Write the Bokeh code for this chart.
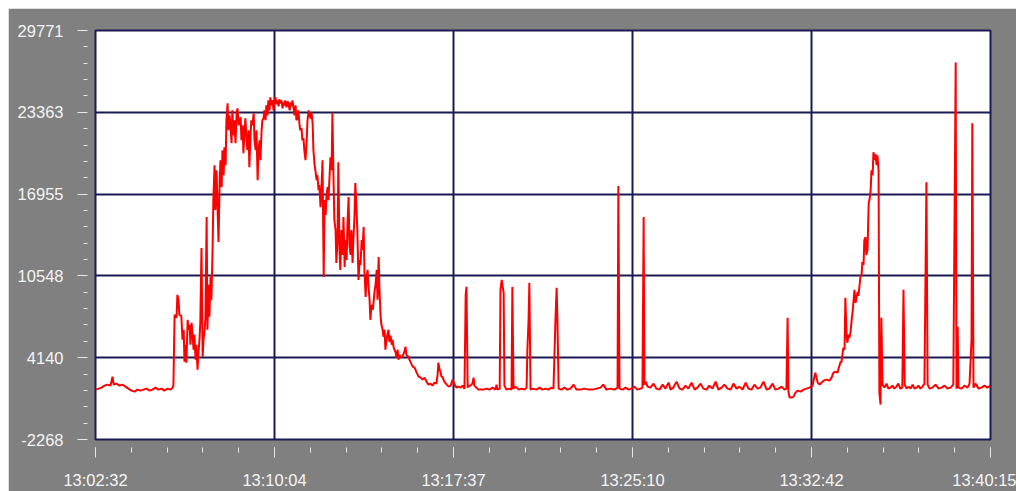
from bokeh.plotting import figure
from bokeh.models import FixedTicker, Range1d, ColumnDataSource, Spacer
from bokeh.layouts import row, column
from bokeh.embed import file_html
from bokeh.resources import INLINE

# ---- axis labels -------------------------------------------------------
x_tick_labels = ["13:02:32", "13:10:04", "13:17:37", "13:25:10", "13:32:42", "13:40:15"]
y_tick_labels = ["-2268", "4140", "10548", "16955", "23363", "29771"]
x_start, x_end = 0, 2263          # seconds after 13:02:32
y_start, y_end = -2268, 29771

# ---- data: seconds after 13:02:32 and reading ---------------------------
base_t = [0, 8, 15, 23, 30, 38, 43, 46, 53, 61, 68, 76, 83, 91, 99, 106, 114, 121, 129, 137,
          144, 152, 159, 167, 174, 182, 190, 195, 197]
base_v = [1639, 1717, 1795, 1952, 2030, 1952, 2655, 2030, 2108, 1952, 2030, 1873, 1717, 1561, 1483,
          1639, 1561, 1639, 1717, 1561, 1639, 1795, 1639, 1717, 1561, 1717, 1639, 1795, 1952]

rise_t = [200, 205, 207, 210, 212, 217, 220, 223, 225, 228,
          230, 233, 235, 238, 240, 243, 248, 250, 253, 255,
          258, 260, 263, 265, 268, 271, 273, 276, 278, 281,
          283, 286, 288, 291, 293, 296, 298, 301, 303, 306,
          308, 311, 314, 316, 319, 321, 324, 326, 329, 331,
          334, 336, 339, 341, 344, 346, 349, 351, 354, 357,
          359, 362, 367, 369, 372, 374, 377, 379, 382, 384,
          387, 389, 392, 394, 397, 400, 402, 405, 407, 410,
          412, 415, 417, 420, 422, 425, 427, 430, 432, 435,
          437, 440, 442]
rise_v = [7500, 7265, 9062, 8672, 7500, 7421, 5546, 6327, 3827, 5155,
          3749, 7109, 6327, 6718, 5155, 6874, 4765, 5937, 3983, 5155,
          3202, 4374, 5546, 6874, 12735, 4218, 5546, 6327, 7265, 15157,
          6327, 9844, 7343, 10469, 8672, 12579, 16486, 19221, 15704, 18830,
          16486, 13204, 18048, 19611, 17501, 20393, 18439, 20627, 19221, 22737,
          24065, 21955, 23128, 22346, 20940, 23518, 21565, 22737, 20940, 23362,
          23674, 22346, 22971, 21174, 22346, 20158, 21955, 22893, 21174, 20393,
          21955, 19064, 21565, 22737, 22346, 23284, 21174, 20393, 21955, 18048,
          20393, 21174, 19611, 21955, 22737, 22893, 23518, 22737, 23909, 23128,
          24300, 23518, 24534]

fall_t = [445, 448, 450, 453, 455, 458, 460, 463, 465, 468,
          470, 473, 475, 478, 480, 483, 486, 488, 491, 493,
          496, 498, 501, 503, 506, 508, 511, 513, 516, 518,
          521, 523, 526, 528, 531, 534, 536, 539, 541, 544,
          546, 549, 551, 554, 556, 559, 561, 564, 566, 569,
          571, 574, 577, 579, 582, 584, 587, 589, 592, 594,
          597, 599, 602, 604, 607, 609, 612, 614, 617, 619,
          622, 625, 627, 630, 632, 635, 637, 640, 642, 645,
          647, 650, 652, 655, 657, 660, 662, 665, 668, 670,
          673, 675, 678, 680, 683, 685, 688, 690, 693, 695,
          698, 701, 703, 706, 708, 711, 713, 716, 718, 721,
          723, 726, 728, 731, 733, 736, 738, 741, 743, 746,
          749, 751, 754, 756, 759, 761, 764, 766, 769, 771,
          776, 781, 784, 786, 791, 796, 802, 807, 812, 817,
          822, 827, 832, 837, 842, 847, 852, 857, 862, 865,
          867, 870, 872, 875, 877, 882, 888, 893, 898, 903,
          908, 913, 918, 923]
fall_v = [23909, 24300, 23518, 24456, 24534, 23987, 24300, 23831, 24378, 24065,
          24300, 23674, 24143, 23909, 24300, 23753, 24221, 23987, 23518, 24143,
          23831, 24300, 23674, 23128, 23909, 22737, 22893, 23518, 22346, 21955,
          22112, 21174, 21330, 20393, 19611, 21174, 22737, 23518, 23128, 22893,
          23362, 22502, 20393, 19221, 18830, 18048, 18439, 17267, 17658, 15939,
          16876, 19611, 10469, 16486, 15314, 16876, 17501, 16486, 18439, 19846,
          18830, 23284, 17814, 14923, 14141, 11563, 13360, 19455, 12579, 11016,
          14141, 12188, 15157, 11250, 13360, 11798, 14532, 16720, 12969, 12188,
          14141, 11563, 13360, 15314, 17814, 15704, 14141, 10234, 11798, 11407,
          13360, 12579, 14376, 11016, 8906, 10234, 11016, 9844, 8672, 7109,
          8281, 7890, 8437, 9453, 9844, 11016, 8672, 12032, 9453, 7343,
          6718, 6327, 5780, 6327, 4765, 5546, 5937, 6327, 5390, 5859,
          5155, 5546, 4921, 4765, 4530, 4139, 4765, 3983, 4374, 4139,
          4218, 4608, 4999, 4374, 4218, 3827, 3436, 3358, 2967, 2655,
          2577, 2420, 2577, 2264, 2030, 2108, 1952, 2186, 2108, 2811,
          3749, 3202, 3046, 2655, 2655, 2264, 2030, 1873, 1952, 2420,
          2030, 1795, 1873, 1795]

idle1_t = [928, 933, 936, 938, 941, 943, 948, 953, 956, 958,
           963, 968, 973, 981, 989, 996, 1004, 1011, 1014, 1016,
           1022, 1024, 1027, 1029, 1032, 1034, 1039, 1047, 1052, 1054,
           1057, 1062, 1070, 1077, 1085, 1090, 1092, 1095, 1097, 1100,
           1107, 1115, 1123, 1130, 1138, 1145, 1153, 1158, 1163, 1166,
           1168, 1171, 1178, 1186, 1193, 1201, 1209, 1216, 1226, 1236,
           1247, 1257, 1267, 1277, 1284, 1292, 1302, 1312, 1320, 1322,
           1325, 1333, 1340, 1348, 1355, 1363, 1370, 1378]
idle1_v = [1952, 1717, 9062, 9687, 1795, 1952, 1952, 2108, 2577, 1952,
           1795, 1639, 1639, 1639, 1717, 1639, 1795, 1639, 2030, 1639,
           1717, 9453, 10234, 9844, 9219, 1952, 1639, 1717, 1639, 9687,
           1717, 1873, 1639, 1717, 1639, 1795, 4765, 7109, 10000, 1639,
           1717, 1639, 1795, 1639, 1717, 1639, 1795, 1717, 7109, 9609,
           7109, 1717, 1639, 1795, 1639, 1717, 2030, 1639, 1639, 1717,
           1639, 1639, 1717, 1795, 2030, 1639, 1717, 1639, 1795, 17580,
           1717, 1639, 1795, 1639, 1717, 1873, 1639, 1717]

idle2_t = [1383, 1386, 1388, 1391, 1396, 1403, 1411, 1418, 1426, 1434,
           1441, 1449, 1454, 1461, 1469, 1477, 1484, 1492, 1499, 1507,
           1515, 1522, 1530, 1537, 1545, 1552, 1560, 1568, 1575, 1583,
           1590, 1598, 1606, 1613, 1621, 1628, 1636, 1644, 1651, 1659,
           1666, 1674, 1681, 1689, 1697, 1704, 1712, 1719, 1727, 1735,
           1742, 1747, 1750, 1752, 1755, 1760, 1765, 1770, 1775, 1783,
           1790, 1798, 1805, 1813, 1820, 1826, 1831]
idle2_v = [1795, 15157, 2030, 2264, 1873, 1795, 2108, 1717, 1639, 2030,
           1717, 2186, 1639, 1795, 2264, 1717, 1639, 1952, 1717, 2186,
           1639, 1795, 2108, 1717, 1639, 1952, 1717, 2264, 1639, 1795,
           2030, 1717, 1639, 2108, 1717, 1873, 1639, 2186, 1717, 1639,
           2030, 1717, 1795, 2264, 1639, 1717, 2108, 1639, 1717, 1873,
           1639, 1717, 7265, 1483, 1014, 1014, 1092, 1405, 1561, 1483,
           1639, 1717, 1795, 1952, 2967, 2186, 2030]

end_t = [1833, 1841, 1848, 1856, 1861, 1866, 1871, 1876, 1881, 1884,
         1886, 1891, 1894, 1896, 1899, 1901, 1904, 1906, 1909, 1912,
         1914, 1917, 1919, 1922, 1924, 1927, 1929, 1932, 1934, 1937,
         1939, 1942, 1944, 1947, 1949, 1952, 1955, 1957, 1960, 1962,
         1965, 1967, 1970, 1972, 1975, 1977, 1980, 1982, 1985, 1987,
         1990, 1995, 2000, 2005, 2010, 2015, 2020, 2025, 2030, 2035,
         2040, 2043, 2046, 2051, 2056, 2061, 2066, 2071, 2076, 2081,
         2086, 2091, 2096, 2101, 2104, 2109, 2116, 2124, 2132, 2139,
         2147, 2154, 2162, 2169, 2175, 2177, 2180, 2182, 2190, 2197,
         2205, 2210, 2215, 2217, 2220, 2225, 2233, 2240, 2248, 2255,
         2263]
end_v = [2108, 2342, 2420, 2342, 2577, 2967, 3046, 2967, 3514, 3827,
         3749, 4921, 4765, 8828, 5937, 5312, 5937, 5702, 6093, 7109,
         7656, 8672, 9453, 8437, 8828, 9297, 8984, 9844, 10469, 10625,
         11641, 11407, 13360, 13594, 12188, 12579, 16251, 16486, 17267, 18830,
         18439, 20236, 19611, 20080, 19221, 20002, 18830, 1405, 467, 7265,
         2030, 1795, 2108, 1717, 1795, 1952, 1717, 1873, 2108, 1717,
         1795, 9453, 2030, 1717, 1873, 1717, 2030, 1717, 1795, 1952,
         1717, 1873, 2108, 17892, 2030, 1717, 1795, 2030, 1717, 1795,
         1952, 1717, 1795, 2030, 27269, 1717, 6562, 1795, 1717, 1952,
         1795, 2108, 5546, 22502, 1795, 2108, 1717, 1795, 1952, 1795,
         1952]

seconds = base_t + rise_t + fall_t + idle1_t + idle2_t + end_t
reading = base_v + rise_v + fall_v + idle1_v + idle2_v + end_v
source = ColumnDataSource(data=dict(t=seconds, v=reading))

# ---- ticks ---------------------------------------------------------------
x_major = [x_start + i * (x_end - x_start) / 5 for i in range(6)]
x_minor = [x_start + i * (x_end - x_start) / 25 for i in range(26)]
y_major = [y_start + i * (y_end - y_start) / 5 for i in range(6)]
y_minor = [y_start + i * (y_end - y_start) / 25 for i in range(26)]

NAVY = "#1a1a55"
TICK = "#e6e6e6"
LABEL = "#f4f4f4"
FONT = "Liberation Sans"

p = figure(width=1008, height=483,
           x_range=Range1d(x_start, x_end), y_range=Range1d(y_start, y_end),
           output_backend="svg", toolbar_location=None,
           min_border_left=87, min_border_right=26,
           min_border_top=22, min_border_bottom=51)

p.background_fill_color = "white"
p.border_fill_color = "#808080"
p.outline_line_color = NAVY
p.outline_line_width = 2

p.line("t", "v", source=source, line_color="#ff0000", line_width=2)

xt = FixedTicker(ticks=x_major, minor_ticks=x_minor)
yt = FixedTicker(ticks=y_major, minor_ticks=y_minor)
p.xaxis.ticker = xt
p.yaxis.ticker = yt
p.xaxis.major_label_overrides = {k: lab for k, lab in zip(x_major, x_tick_labels)}
p.yaxis.major_label_overrides = {k: lab for k, lab in zip(y_major, y_tick_labels)}

for ax in (p.xaxis[0], p.yaxis[0]):
    ax.axis_line_color = None
    ax.major_tick_line_color = TICK
    ax.minor_tick_line_color = TICK
    ax.major_tick_line_width = 1
    ax.minor_tick_line_width = 1
    ax.major_label_text_color = LABEL
    ax.major_label_text_font = FONT
    ax.major_label_text_font_size = "16.5px"

p.xaxis.major_tick_in = -8
p.xaxis.major_tick_out = 18
p.xaxis.minor_tick_in = -8
p.xaxis.minor_tick_out = 13
p.xaxis.major_label_standoff = 13

p.yaxis.major_tick_in = -10
p.yaxis.major_tick_out = 18
p.yaxis.minor_tick_in = -8
p.yaxis.minor_tick_out = 12
p.yaxis.major_label_standoff = 14

for g in (p.xgrid[0], p.ygrid[0]):
    g.grid_line_color = NAVY
    g.grid_line_width = 2

layout = row(Spacer(width=8, height=491),
             column(Spacer(width=1008, height=8), p, spacing=0),
             spacing=0)

open("out.html", "w").write(file_html(layout, INLINE))
